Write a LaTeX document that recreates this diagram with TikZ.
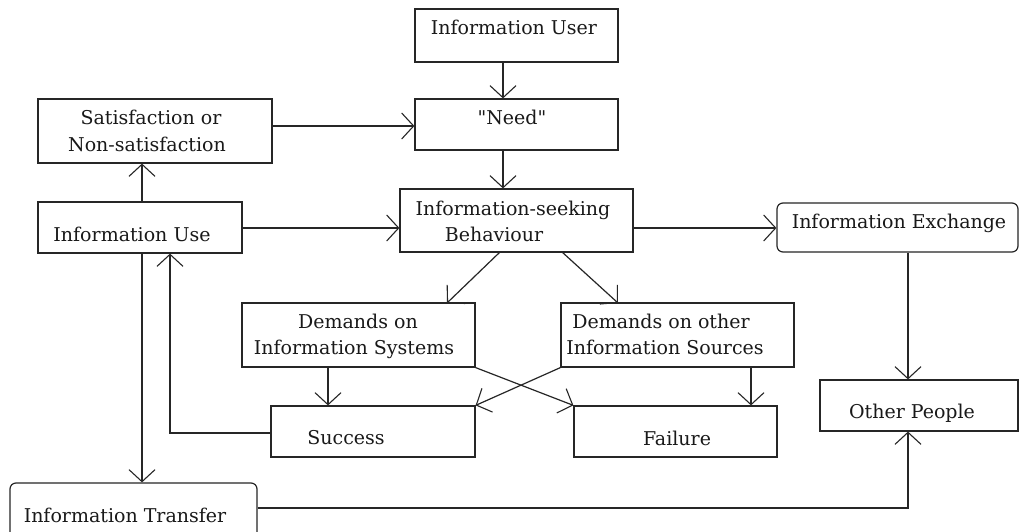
\documentclass[tikz,border=0pt]{standalone}
\usepackage{fontspec}
\setmainfont{DejaVu Serif}
\usetikzlibrary{arrows.meta,fit}
\newcommand{\strq}{\XeTeXglyph\XeTeXcharglyph"0022\relax}
\begin{document}
\begin{tikzpicture}[x=1pt,y=-1pt,
  box/.style={draw=black!85,line width=1.2pt,inner sep=0pt},
  rbox/.style={box,rounded corners=6pt},
  txt/.style={anchor=base,inner sep=0pt,font=\fontsize{19}{22}\selectfont,text=black!90},
  arr/.style={draw=black!85,line width=1.2pt,-{Straight Barb[length=12pt,width=26pt,line width=1.1pt]}}]
\clip (0,0) rectangle (1020,532);
\fill[white] (0,0) rectangle (1020,532);
% boxes
\node[box,fit={(415,9) (618,62)}] (user) {};
\node[box,fit={(415,99) (618,150)}] (need) {};
\node[box,fit={(400,189) (633,252)}] (behav) {};
\node[box,fit={(38,99) (272,163)}] (satis) {};
\node[box,fit={(38,202) (242,253)}] (use) {};
\node[rbox,fit={(777,203) (1018,252)}] (exch) {};
\node[box,fit={(242,303) (475,367)}] (sys) {};
\node[box,fit={(561,303) (794,367)}] (oth) {};
\node[box,fit={(271,406) (475,457)}] (succ) {};
\node[box,fit={(574,406) (777,457)}] (fail) {};
\node[box,fit={(820,380) (1018,431)}] (people) {};
\node[rbox,fit={(10,483) (257,548)}] (transf) {};
% texts
\node[txt] (tuser) at (514,35) {Information User};
\node[txt] (tneed) at (512,125) {\strq Need\strq};
\node[txt] (tbeh1) at (513,215) {Information-seeking};
\node[txt] (tbeh2) at (494,241) {Behaviour};
\node[txt] (tsat1) at (151,125) {Satisfaction or};
\node[txt] (tsat2) at (147,151) {Non-satisfaction};
\node[txt] (tuse) at (132,241) {Information Use};
\node[txt] (texch) at (899,228) {Information Exchange};
\node[txt] (tpeople) at (912,418) {Other People};
\node[txt] (tsys1) at (358,328) {Demands on};
\node[txt] (tsys2) at (354,354) {Information Systems};
\node[txt] (toth1) at (661,328) {Demands on other};
\node[txt] (toth2) at (665,354) {Information Sources};
\node[txt] (tsucc) at (346,444) {Success};
\node[txt] (tfail) at (677,445) {Failure};
\node[txt] (ttransf) at (125,522) {Information Transfer};
% helper positions
\coordinate (xa) at (503,0);
\coordinate (xb) at (142,0);
\coordinate (xc) at (170,0);
\coordinate (xd) at (328,0);
\coordinate (xe) at (751,0);
\coordinate (xf) at (908,0);
\coordinate (ya) at (0,126);
\coordinate (yb) at (0,228);
\coordinate (yc) at (0,433);
\coordinate (yd) at (0,508);
\coordinate (b1) at (500,252);
\coordinate (b2) at (562,252);
\coordinate (s1) at (447,303);
\coordinate (o1) at (618,303);
% connectors
\draw[arr] (user.south -| xa) -- (need.north -| xa);
\draw[arr] (need.south -| xa) -- (behav.north -| xa);
\draw[arr] (satis.east |- ya) -- (need.west |- ya);
\draw[arr] (use.north -| xb) -- (satis.south -| xb);
\draw[arr] (use.east |- yb) -- (behav.west |- yb);
\draw[arr] (behav.east |- yb) -- (exch.west |- yb);
\draw[arr] (b1) -- (s1);
\draw[arr] (b2) -- (o1);
\draw[arr] (sys.south -| xd) -- (succ.north -| xd);
\draw[arr] (oth.south -| xe) -- (fail.north -| xe);
\draw[arr] (sys.south east) -- (fail.north west);
\draw[arr] (oth.south west) -- (succ.north east);
\draw[arr] (succ.west |- yc) -- (xc |- yc) -- (use.south -| xc);
\draw[arr] (use.south -| xb) -- (transf.north -| xb);
\draw[arr] (transf.east |- yd) -- (xf |- yd) -- (people.south -| xf);
\draw[arr] (exch.south -| xf) -- (people.north -| xf);
\end{tikzpicture}
\end{document}
